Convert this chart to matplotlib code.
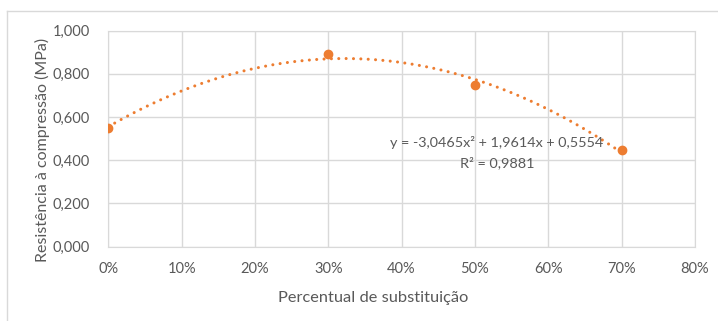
import numpy as np
import matplotlib.pyplot as plt
from matplotlib.lines import Line2D

# data
substituicao = [0.0, 0.3, 0.5, 0.7]
resistencia = [0.5502, 0.8926, 0.7470, 0.4454]
x_ticks = [0.0, 0.1, 0.2, 0.3, 0.4, 0.5, 0.6, 0.7, 0.8]
y_ticks = [0.0, 0.2, 0.4, 0.6, 0.8, 1.0]
eq_label = 'y = -3,0465x² + 1,9614x + 0,5554'
r2_label = 'R² = 0,9881'

orange = '#ED7D31'
gray_txt = '#595959'
grid_col = '#D9D9D9'

plt.rcParams['font.family'] = ['Lato', 'DejaVu Sans']

fig = plt.figure(figsize=(7.18, 3.21), dpi=100)
ax = fig.add_axes([0.1508, 0.2315, 0.8171, 0.6729])

# polynomial trendline (2nd order) like Excel
coef = np.polyfit(substituicao, resistencia, 2)
xs = np.linspace(0, 0.7, 200)
ax.plot(xs, np.polyval(coef, xs), color=orange, lw=2.2,
        linestyle=(0, (0.01, 2.4)), dash_capstyle='round', zorder=3)
ax.plot(substituicao, resistencia, 'o', color=orange, ms=6, zorder=4)

ax.set_xlim(0, 0.8)
ax.set_ylim(0, 1.0)
ax.set_xticks(x_ticks)
ax.set_xticklabels([f'{int(round(v*100))}%' for v in x_ticks])
ax.set_yticks(y_ticks)
ax.set_yticklabels([f'{v:.3f}'.replace('.', ',') for v in y_ticks])
ax.grid(True, color=grid_col, lw=1)
ax.set_axisbelow(True)
for s in ax.spines.values():
    s.set_color(grid_col)
ax.tick_params(length=0, colors=gray_txt, labelsize=10.5)
ax.tick_params(axis='x', pad=11)
ax.tick_params(axis='y', pad=13)

fig.text(42/718, 1 - 150/321, 'Resistência à compressão (MPa)', rotation=90,
         ha='center', va='center', color=gray_txt, fontsize=11.5)
fig.text(373/718, 1 - 298/321, 'Percentual de substituição',
         ha='center', va='center', color=gray_txt, fontsize=11.8)

fig.text(497/718, 1 - 143/321, eq_label, ha='center', va='center',
         color=gray_txt, fontsize=10.4)
fig.text(497/718, 1 - 163/321, r2_label,
         ha='center', va='center', color=gray_txt, fontsize=10.4)

# chart border (top and left visible)
fig.add_artist(Line2D([7/718, 7/718], [0, 1 - 10.5/321], color='#D9D9D9',
                      lw=1, transform=fig.transFigure))
fig.add_artist(Line2D([7/718, 1], [1 - 10.5/321, 1 - 10.5/321], color='#D9D9D9',
                      lw=1, transform=fig.transFigure))

fig.savefig('out.png', dpi=100)
